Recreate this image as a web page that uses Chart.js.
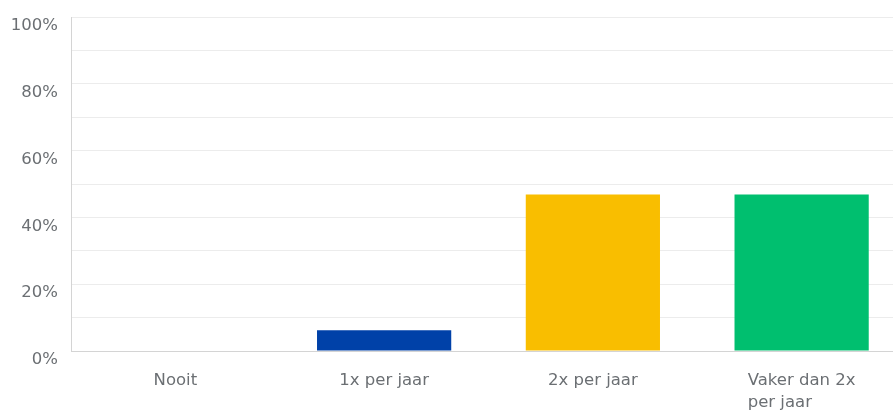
<!DOCTYPE html>
<html>
<head>
<meta charset="utf-8">
<script src="https://cdn.jsdelivr.net/npm/chart.js@4/dist/chart.umd.min.js"></script>
<style>
  html, body { margin: 0; padding: 0; background: #fff; overflow: hidden; }
  #wrap { width: 906px; height: 414px; position: relative; }
</style>
</head>
<body>
<div id="wrap"><canvas id="chart"></canvas></div>
<script>
const categories = ["Nooit", "1x per jaar", "2x per jaar", ["Vaker dan 2x", "per jaar"]];
const values = [0, 6.25, 46.88, 46.88];
const barColors = ["#7f8fa6", "#0041a8", "#f9be00", "#00bf6f"];
const yTickLabels = { 0: "0%", 20: "20%", 40: "40%", 60: "60%", 80: "80%", 100: "100%" };

const FONT = "'DejaVu Sans', sans-serif";
const FONT_SIZE = 16.5;
const LINE_H = 22;
const TEXT = "#6b6f73";

// multi-line category labels are drawn left-aligned inside a centred block
const leftAlignedLabels = {
  id: "leftAlignedLabels",
  afterDraw(chart) {
    const x = chart.scales.x;
    const ctx = chart.ctx;
    ctx.save();
    ctx.font = `${FONT_SIZE}px ${FONT}`;
    ctx.fillStyle = TEXT;
    ctx.textAlign = "left";
    ctx.textBaseline = "middle";
    categories.forEach((lab, i) => {
      if (!Array.isArray(lab)) return;
      const w = Math.max(...lab.map((l) => ctx.measureText(l).width));
      const left = x.getPixelForTick(i) - w / 2;
      lab.forEach((line, j) => {
        ctx.fillText(line, left, x.top + 19 + LINE_H / 2 + j * LINE_H);
      });
    });
    ctx.restore();
  },
};

new Chart(document.getElementById("chart"), {
  type: "bar",
  data: {
    labels: categories,
    datasets: [{
      data: values,
      backgroundColor: barColors,
      borderWidth: 0,
      categoryPercentage: 1,
      barPercentage: 0.643,
    }],
  },
  options: {
    responsive: true,
    maintainAspectRatio: false,
    animation: false,
    layout: { padding: { top: 17, right: 0, bottom: 0, left: 0 } },
    plugins: { legend: { display: false }, tooltip: { enabled: false } },
    scales: {
      x: {
        afterFit: (s) => { s.height = 63; },
        grid: { display: false, drawTicks: false },
        border: { color: "#d4d4d4", width: 1 },
        ticks: {
          color: (c) => (Array.isArray(categories[c.index]) ? "rgba(0,0,0,0)" : TEXT),
          font: { family: FONT, size: FONT_SIZE, lineHeight: LINE_H / FONT_SIZE },
          padding: 19,
          maxRotation: 0,
          autoSkip: false,
        },
      },
      y: {
        min: 0,
        max: 100,
        afterFit: (s) => { s.width = 71; s.paddingTop = 0; s.paddingBottom = 0; },
        grid: { color: "#ececec", drawTicks: false },
        border: { color: "#d4d4d4", width: 1 },
        ticks: {
          stepSize: 10,
          color: TEXT,
          font: { family: FONT, size: FONT_SIZE },
          padding: 13,
          labelOffset: 9,
          callback: (v) => yTickLabels[v] || "",
        },
      },
    },
  },
  plugins: [leftAlignedLabels],
});
</script>
</body>
</html>
